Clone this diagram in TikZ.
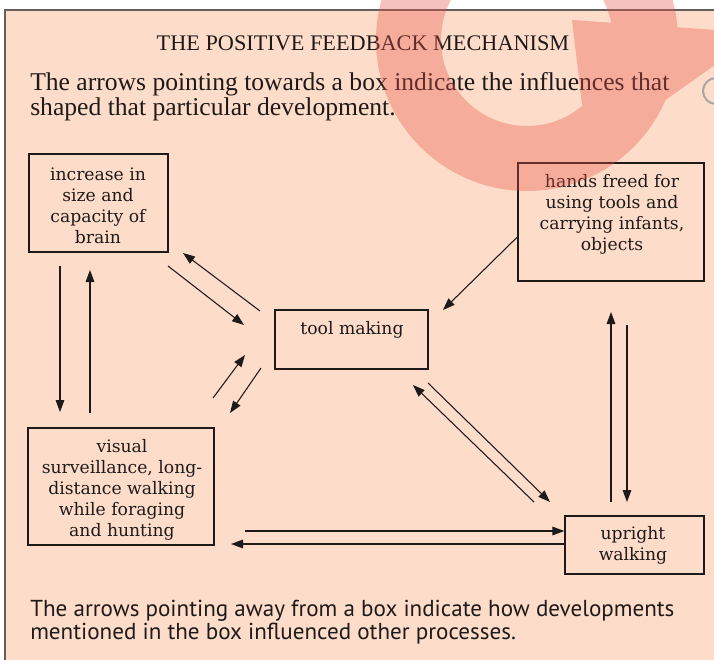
\documentclass[tikz,border=0pt]{standalone}
\usepackage{fontspec}
\setmainfont{Liberation Serif}
\newfontfamily\boxfont{DejaVu Serif}
\newfontfamily\lowfont{PT Sans}
\usetikzlibrary{arrows.meta}
\definecolor{peach}{RGB}{253,221,201}
\definecolor{framegray}{RGB}{100,95,95}
\definecolor{ink}{RGB}{30,26,26}
\definecolor{wm}{RGB}{232,83,71}
\begin{document}
\begin{tikzpicture}[x=0.75pt,y=-0.75pt,
  box/.style={draw=ink, line width=1pt, rectangle, inner sep=0pt},
  btext/.style={font=\boxfont\fontsize{12.9}{15.75}\selectfont, align=center, text=ink, inner sep=0pt},
  ptext/.style={font=\fontsize{19.2}{23}\selectfont, text=ink, inner sep=0pt, anchor=base west},
  ltext/.style={font=\lowfont\fontsize{17.3}{21}\selectfont, text=ink, inner sep=0pt, anchor=base west},
  arr/.style={draw=ink, line width=0.8pt, -{Triangle[length=9pt,width=6.5pt]}},
]
\useasboundingbox (0,0) rectangle (714,660);
\clip (0,0) rectangle (714,660);
\fill[white] (0,0) rectangle (714,660);
\draw[framegray, line width=1.6pt, fill=peach] (5,10) rectangle (760,700);

% texts
\node[font=\fontsize{16.7}{20}\selectfont, text=ink, anchor=base, inner sep=0pt] (title) at (363,50.5) {THE POSITIVE FEEDBACK MECHANISM};
\node[ptext] (top1) at (30,90.5) {The arrows pointing towards a box indicate the influences that};
\node[ptext] (top2) at (30,115) {shaped that particular development.};
\node[ltext] (bot1) at (30,616) {The arrows pointing away from a box indicate how developments};
\node[ltext] (bot2) at (30,639) {mentioned in the box influenced other processes.};

% boxes
\node[box, minimum width=104.25pt, minimum height=73.5pt] (brain) at (98.5,203) {};
\node[btext] (brainT) at (98,206) {increase in\\size and\\capacity of\\brain};
\node[box, minimum width=114.75pt, minimum height=44.25pt] (tool) at (351.5,339.5) {};
\node[btext] (toolT) at (352,330) {tool making};
\node[box, minimum width=139.5pt, minimum height=88.5pt] (hands) at (611,222) {};
\node[btext] (handsT) at (612,214.5) {hands freed for\\using tools and\\carrying infants,\\objects};
\node[box, minimum width=139.5pt, minimum height=87.75pt] (visual) at (121,486.5) {};
\node[btext] (visualT) at (122,489.5) {visual\\surveillance, long-\\distance walking\\while foraging\\and hunting};
\node[box, minimum width=104.25pt, minimum height=43.5pt] (upright) at (634.5,545) {};
\node[btext] (uprightT) at (633,545.5) {upright\\walking};

% arrow end points
\coordinate (a1s) at (60,266);  \coordinate (a1e) at (60,412);
\coordinate (a2s) at (90,413);  \coordinate (a2e) at (90,270);
\coordinate (a3s) at (168,266); \coordinate (a3e) at (244,325);
\coordinate (a4s) at (260,311); \coordinate (a4e) at (183,253);
\coordinate (a5s) at (213,398); \coordinate (a5e) at (245,355);
\coordinate (a6s) at (261,368); \coordinate (a6e) at (230,413);
\coordinate (a7s) at (hands.west |- 0,237); \coordinate (a7e) at (443,310);
\coordinate (a8s) at (534,502); \coordinate (a8e) at (413,385);
\coordinate (a9s) at (428,383); \coordinate (a9e) at (550,502);
\coordinate (a10s) at (611,502); \coordinate (a10e) at (611,312);
\coordinate (a11s) at (627,325); \coordinate (a11e) at (627,502);
\coordinate (a12s) at (245,531); \coordinate (a12e) at (upright.west |- 0,531);
\coordinate (a13s) at (upright.west |- 0,544); \coordinate (a13e) at (231,544);

\draw[arr] (a1s) -- (a1e);
\draw[arr] (a2s) -- (a2e);
\draw[arr] (a3s) -- (a3e);
\draw[arr] (a4s) -- (a4e);
\draw[arr] (a5s) -- (a5e);
\draw[arr] (a6s) -- (a6e);
\draw[arr] (a7s) -- (a7e);
\draw[arr] (a8s) -- (a8e);
\draw[arr] (a9s) -- (a9e);
\draw[arr] (a10s) -- (a10e);
\draw[arr] (a11s) -- (a11e);
\draw[arr] (a12s) -- (a12e);
\draw[arr] (a13s) -- (a13e);

% small grey ring at right edge
\draw[gray!70, line width=1.5pt] (716,91) circle[radius=13];

% watermark circular arrow
\fill[wm, opacity=0.35, nonzero rule]
  (678,40) arc[start angle=0, end angle=360, radius=151] -- cycle
  (613,40) arc[start angle=360, end angle=0, radius=86] -- cycle
  (572,20) -- (760,33) -- (588,155) -- cycle;
\end{tikzpicture}
\end{document}
